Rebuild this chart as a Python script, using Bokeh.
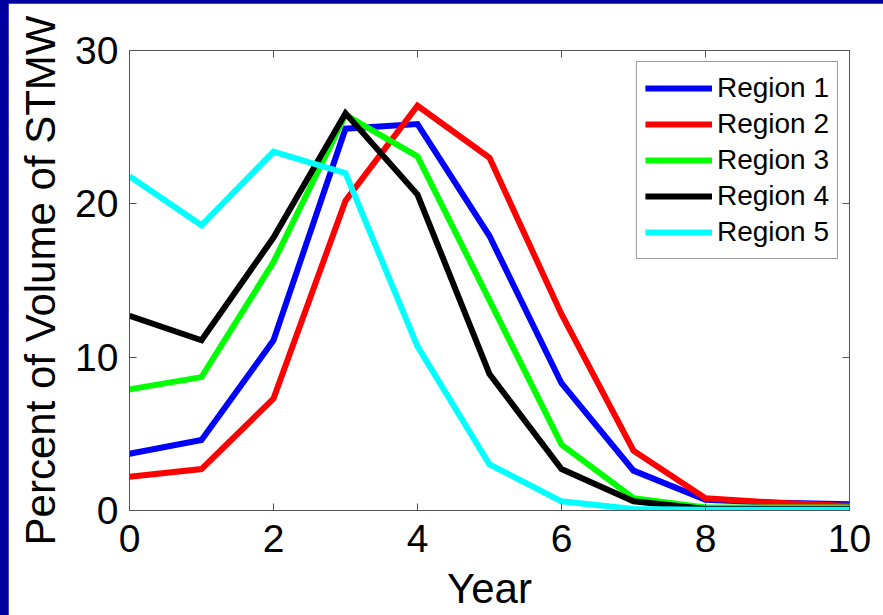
from bokeh.plotting import figure
from bokeh.models import (LinearAxis, FixedTicker, Legend, LegendItem, Range1d,
                          GlobalInlineStyleSheet)
from bokeh.embed import file_html
from bokeh.resources import INLINE

years = [0, 1, 2, 3, 4, 5, 6, 7, 8, 9, 10]
region1 = [3.7, 4.6, 11.1, 24.9, 25.2, 17.9, 8.3, 2.6, 0.7, 0.5, 0.4]
region2 = [2.2, 2.7, 7.3, 20.2, 26.4, 23.0, 12.8, 3.9, 0.8, 0.5, 0.3]
region3 = [7.9, 8.7, 16.2, 25.8, 23.1, 13.7, 4.3, 0.8, 0.2, 0.2, 0.2]
region4 = [12.7, 11.1, 17.8, 25.9, 20.6, 8.9, 2.7, 0.6, 0.1, 0.1, 0.1]
region5 = [21.8, 18.6, 23.4, 22.0, 10.7, 3.0, 0.6, 0.1, 0.05, 0.05, 0.05]
labels = ["Region 1", "Region 2", "Region 3", "Region 4", "Region 5"]
colors = ["#0000ff", "#ff0000", "#00ff00", "#000000", "#00ffff"]
x_ticks = [0, 2, 4, 6, 8, 10]
y_ticks = [0, 10, 20, 30]

FONT = "Liberation Sans"
AXIS_COLOR = "#555555"

p = figure(width=875, height=612, output_backend="svg", toolbar_location=None,
           x_range=Range1d(0, 10), y_range=Range1d(0, 30),
           min_border_left=121, min_border_right=34,
           min_border_top=47, min_border_bottom=105,
           background_fill_color="white", border_fill_color="white",
           outline_line_color=AXIS_COLOR)
p.stylesheets = [GlobalInlineStyleSheet(
    css="html,body{background-color:#0000a0 !important;} body{margin:3px 0 0 8px !important;overflow:hidden;}")]
p.grid.visible = False

renderers = []
for ys, c in zip([region1, region2, region3, region4, region5], colors):
    r = p.line(years, ys, line_color=c, line_width=6, line_join="miter")
    renderers.append(r)

def style_axis(ax, show_labels):
    ax.axis_line_color = AXIS_COLOR
    ax.major_tick_line_color = AXIS_COLOR
    ax.major_tick_in = 7
    ax.major_tick_out = 0
    ax.minor_tick_line_color = None
    if not show_labels:
        ax.major_label_text_font_size = "0px"
        ax.major_label_text_alpha = 0
        ax.major_label_standoff = 0

xa = p.xaxis[0]
ya = p.yaxis[0]
xa.ticker = FixedTicker(ticks=x_ticks)
ya.ticker = FixedTicker(ticks=y_ticks)
style_axis(xa, True)
style_axis(ya, True)
for ax in (xa, ya):
    ax.major_label_text_font = FONT
    ax.major_label_text_font_size = "39px"
    ax.major_label_text_color = "black"
    ax.axis_label_text_font = FONT
    ax.axis_label_text_font_size = "42px"
    ax.axis_label_text_font_style = "normal"
    ax.axis_label_text_color = "black"
xa.axis_label = "Year"
ya.axis_label = "Percent of Volume of STMW"
xa.major_label_standoff = 14
xa.axis_label_standoff = 10
ya.major_label_standoff = 11
ya.axis_label_standoff = 8

top_ax = LinearAxis(ticker=FixedTicker(ticks=x_ticks))
right_ax = LinearAxis(ticker=FixedTicker(ticks=y_ticks))
style_axis(top_ax, False)
style_axis(right_ax, False)
p.add_layout(top_ax, "above")
p.add_layout(right_ax, "right")

legend = Legend(items=[LegendItem(label=l, renderers=[r]) for l, r in zip(labels, renderers)],
                location="top_right", margin=11, padding=8, spacing=0,
                glyph_width=67, glyph_height=36, label_height=36, label_standoff=5,
                label_text_font=FONT, label_text_font_size="28px",
                label_text_color="black",
                border_line_color="#333333", border_line_width=1,
                background_fill_color="white", background_fill_alpha=1.0)
p.add_layout(legend)

open("out.html", "w").write(file_html(p, INLINE))
